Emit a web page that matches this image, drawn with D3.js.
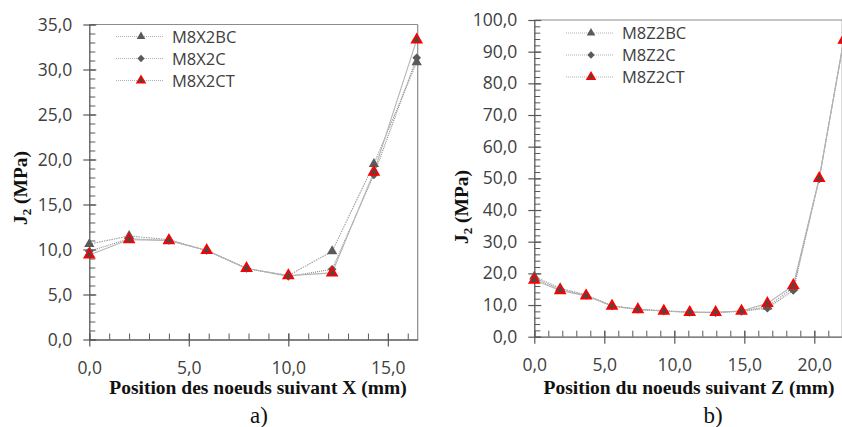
<!DOCTYPE html>
<html>
<head>
<meta charset="utf-8">
<script src="https://cdn.jsdelivr.net/npm/d3@7"></script>
<style>
  html, body { margin: 0; padding: 0; background: #fff; }
  svg { display: block; }
  .tick text { font-family: "Open Sans", sans-serif; font-size: 17.5px; fill: #404040; }
</style>
</head>
<body>
<svg id="chart" width="842" height="427"></svg>
<script>
// ---- Panel a: J2 along X ----
const posX = [0, 2.0, 4.0, 5.9, 7.9, 10.0, 12.2, 14.3, 16.45];
const m8x2bc = [10.6, 11.5, 11.1, 9.9, 7.9, 7.1, 9.8, 19.5, 30.8];
const m8x2c  = [9.8, 11.2, 11.0, 9.9, 7.9, 7.0, 7.8, 18.3, 31.3];
const m8x2ct = [9.4, 11.1, 11.0, 9.9, 7.9, 7.1, 7.4, 18.6, 33.3];
const namesA = ["M8X2BC", "M8X2C", "M8X2CT"];
const yTicksA = [0, 5, 10, 15, 20, 25, 30, 35];
const xTicksA = [0, 5, 10, 15];

// ---- Panel b: J2 along Z ----
const posZ = [0, 1.85, 3.7, 5.55, 7.4, 9.25, 11.1, 12.95, 14.8, 16.65, 18.5, 20.35, 22.1];
const m8z2bc = [19.0, 15.3, 13.2, 9.8, 8.7, 8.2, 7.8, 7.7, 8.1, 9.5, 15.5, 50.0, 93.5];
const m8z2c  = [18.5, 14.9, 13.0, 9.7, 8.6, 8.1, 7.7, 7.6, 8.0, 9.0, 14.6, 49.8, 93.3];
const m8z2ct = [17.9, 14.6, 12.9, 9.7, 8.6, 8.1, 7.7, 7.7, 8.1, 10.5, 16.2, 50.0, 93.7];
const namesB = ["M8Z2BC", "M8Z2C", "M8Z2CT"];
const yTicksB = [0, 10, 20, 30, 40, 50, 60, 70, 80, 90, 100];
const xTicksB = [0, 5, 10, 15, 20];

const svg = d3.select("#chart");
const fmt = v => d3.format(".1f")(v).replace(".", ",");

const axisColor = "#595959";
const frameColor = "#8c8c8c";

// series styling: BC grey triangle, C grey diamond, CT red-rimmed triangle
const styles = [
  { sym: d3.symbolTriangle, size: 46, fill: "#5a5a5a", stroke: "none", sw: 0, line: "#a0a0a0", dash: "1.5,1" },
  { sym: d3.symbolDiamond2 || d3.symbolSquare, size: 48, fill: "#5a5a5a", stroke: "none", sw: 0, line: "#8a8a8a", dash: "1,1" },
  { sym: d3.symbolTriangle, size: 40, fill: "#4a4a4a", stroke: "#ff0000", sw: 1.8, line: "#b4b4b4", dash: null }
];

function panel(cfg) {
  const x = d3.scaleLinear().domain(cfg.xDomain).range([cfg.left, cfg.right]);
  const y = d3.scaleLinear().domain(cfg.yDomain).range([cfg.bottom, cfg.top]);
  const g = svg.append("g");

  // frame (top and right edges)
  g.append("line").attr("x1", cfg.left).attr("x2", cfg.right).attr("y1", cfg.top).attr("y2", cfg.top)
    .attr("stroke", frameColor).attr("stroke-width", 1.2);
  g.append("line").attr("x1", cfg.right).attr("x2", cfg.right).attr("y1", cfg.top).attr("y2", cfg.bottom)
    .attr("stroke", frameColor).attr("stroke-width", 1.2);

  // minor ticks (inside)
  g.append("g").attr("transform", `translate(${cfg.left},0)`)
    .call(d3.axisLeft(y).tickValues(d3.range(cfg.yDomain[0], cfg.yDomain[1] + 1e-9, cfg.yMinor))
      .tickSize(-6).tickSizeOuter(0).tickFormat(""))
    .call(s => s.select(".domain").remove())
    .call(s => s.selectAll("line").attr("stroke", axisColor));
  g.append("g").attr("transform", `translate(0,${cfg.bottom})`)
    .call(d3.axisBottom(x).tickValues(d3.range(cfg.xDomain[0], cfg.xDomain[1] + 1e-9, cfg.xMinor))
      .tickSize(-6).tickSizeOuter(0).tickFormat(""))
    .call(s => s.select(".domain").remove())
    .call(s => s.selectAll("line").attr("stroke", axisColor));

  // major axes with crossing ticks
  g.append("g").attr("transform", `translate(${cfg.left},0)`)
    .call(d3.axisLeft(y).tickValues(cfg.yTicks).tickFormat(fmt).tickSize(6).tickSizeOuter(0).tickPadding(11))
    .call(s => s.select(".domain").attr("stroke", axisColor).attr("stroke-width", 1.3))
    .call(s => s.selectAll(".tick line").attr("x1", 7).attr("stroke", axisColor).attr("stroke-width", 1.2));
  g.append("g").attr("transform", `translate(0,${cfg.bottom})`)
    .call(d3.axisBottom(x).tickValues(cfg.xTicks).tickFormat(fmt).tickSize(7).tickSizeOuter(0).tickPadding(15))
    .call(s => s.select(".domain").attr("stroke", axisColor).attr("stroke-width", 1.3))
    .call(s => s.selectAll(".tick line").attr("y1", -6).attr("stroke", axisColor).attr("stroke-width", 1.2));

  // series lines
  const line = d3.line().x(d => x(d[0])).y(d => y(d[1]));
  cfg.series.forEach((vals, i) => {
    const st = styles[i];
    g.append("path").datum(cfg.xs.map((xv, k) => [xv, vals[k]]))
      .attr("d", line).attr("fill", "none")
      .attr("stroke", st.line).attr("stroke-width", 1.1)
      .attr("stroke-dasharray", st.dash);
  });
  // markers
  cfg.series.forEach((vals, i) => {
    const st = styles[i];
    g.append("g").selectAll("path").data(cfg.xs.map((xv, k) => [xv, vals[k]])).join("path")
      .attr("transform", d => `translate(${x(d[0])},${y(d[1])})`)
      .attr("d", d3.symbol().type(st.sym).size(st.size))
      .attr("fill", st.fill).attr("stroke", st.stroke).attr("stroke-width", st.sw);
  });

  // legend
  cfg.names.forEach((nm, i) => {
    const st = styles[i];
    const ly = cfg.legY + i * 22;
    g.append("line").attr("x1", cfg.legX).attr("x2", cfg.legX + 48).attr("y1", ly).attr("y2", ly)
      .attr("stroke", "#b0b0b0").attr("stroke-width", 1).attr("stroke-dasharray", "1,1");
    g.append("path").attr("transform", `translate(${cfg.legX + 25},${ly})`)
      .attr("d", d3.symbol().type(st.sym).size(st.size * 0.7))
      .attr("fill", st.fill).attr("stroke", st.stroke).attr("stroke-width", st.sw * 0.8);
    g.append("text").attr("x", cfg.legX + 56).attr("y", ly + 6).text(nm)
      .attr("font-family", "'Open Sans', sans-serif").attr("font-size", 16.5).attr("fill", "#404040");
  });

  // axis titles
  g.append("text").attr("x", cfg.xTitleX).attr("y", 394).attr("text-anchor", "middle")
    .attr("font-family", "'Liberation Serif', serif").attr("font-weight", "bold").attr("font-size", 19.5)
    .attr("fill", "#111").text(cfg.xTitle);
  const yt = g.append("text").attr("transform", `translate(${cfg.yTitleX},${cfg.yTitleY}) rotate(-90)`)
    .attr("text-anchor", "middle")
    .attr("font-family", "'Liberation Serif', serif").attr("font-weight", "bold").attr("font-size", 19.5)
    .attr("fill", "#111");
  yt.append("tspan").text("J");
  yt.append("tspan").attr("font-size", 13).attr("dy", 4).text("2");
  yt.append("tspan").attr("dy", -4).text(" (MPa)");

  // panel caption
  g.append("text").attr("x", cfg.capX).attr("y", 423).attr("text-anchor", "middle")
    .attr("font-family", "'Liberation Serif', serif").attr("font-size", 23).attr("fill", "#111")
    .text(cfg.caption);
}

panel({
  xs: posX, series: [m8x2bc, m8x2c, m8x2ct], names: namesA,
  xDomain: [0, 16.5], yDomain: [0, 35], xTicks: xTicksA, yTicks: yTicksA, xMinor: 1, yMinor: 1,
  left: 89.3, right: 417.7, top: 24.5, bottom: 339.5,
  legX: 116, legY: 36.5,
  xTitle: "Position des noeuds suivant X (mm)", xTitleX: 258,
  yTitleX: 27, yTitleY: 188, caption: "a)", capX: 259
});

panel({
  xs: posZ, series: [m8z2bc, m8z2c, m8z2ct], names: namesB,
  xDomain: [0, 22], yDomain: [0, 100], xTicks: xTicksB, yTicks: yTicksB, xMinor: 1, yMinor: 2,
  left: 534.3, right: 842.3, top: 20, bottom: 336.7,
  legX: 566, legY: 33,
  xTitle: "Position du noeuds suivant Z (mm)", xTitleX: 689,
  yTitleX: 468, yTitleY: 207, caption: "b)", capX: 713
});
</script>
</body>
</html>
